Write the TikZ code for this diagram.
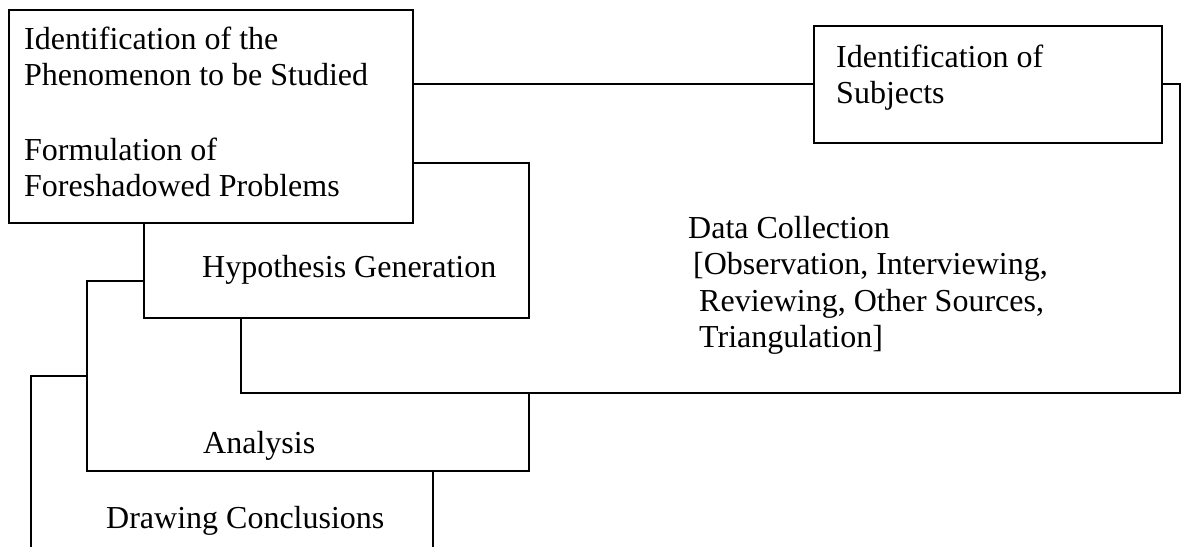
\documentclass[tikz,border=0pt]{standalone}
\usepackage{fontspec}
\setmainfont{Liberation Serif}
\newcommand\labelfont{\fontsize{32}{36.5}\selectfont}
\tikzset{
  panel/.style={draw=black, fill=white, line width=1.8pt, rectangle,
                inner sep=0pt, outer sep=0pt, anchor=north west},
  lbl/.style={anchor=base west, inner sep=0pt, font=\labelfont}
}
\begin{document}
\begin{tikzpicture}[x=1pt,y=-1pt]
\useasboundingbox (0,0) rectangle (1183,546);
\fill[white] (0,0) rectangle (1183,546);
\clip (0,0) rectangle (1183,546);

% stacked panels, drawn from the back to the front
\node[panel, minimum width=402pt, minimum height=200pt] (concbox) at (31,376) {};
\node[lbl] (conc) at (106,528) {Drawing Conclusions};

\node[panel, minimum width=442pt, minimum height=190pt] (analbox) at (87,281) {};
\node[lbl] (anal) at (203,453) {Analysis};

\node[panel, minimum width=939pt, minimum height=309pt] (dcbox) at (241,84) {};
\node[lbl] (dc1) at (688,238) {Data Collection};
\node[lbl] (dc2) at (693,274.5) {[Observation, Interviewing,};
\node[lbl] (dc3) at (699,311) {Reviewing, Other Sources,};
\node[lbl] (dc4) at (699,347.5) {Triangulation]};

\node[panel, minimum width=385pt, minimum height=155pt] (hypbox) at (144,163) {};
\node[lbl] (hyp) at (202,277) {Hypothesis Generation};

\node[panel, minimum width=404pt, minimum height=213pt] (phenbox) at (9,10) {};
\node[lbl] (ph1) at (24,49) {Identification of the};
\node[lbl] (ph2) at (24,85.5) {Phenomenon to be Studied};
\node[lbl] (ph3) at (24,160) {Formulation of};
\node[lbl] (ph4) at (24,196.5) {Foreshadowed Problems};

\node[panel, minimum width=348pt, minimum height=117pt] (subjbox) at (814,26) {};
\node[lbl] (sub1) at (836,67) {Identification of};
\node[lbl] (sub2) at (836,103.5) {Subjects};
\end{tikzpicture}
\end{document}
